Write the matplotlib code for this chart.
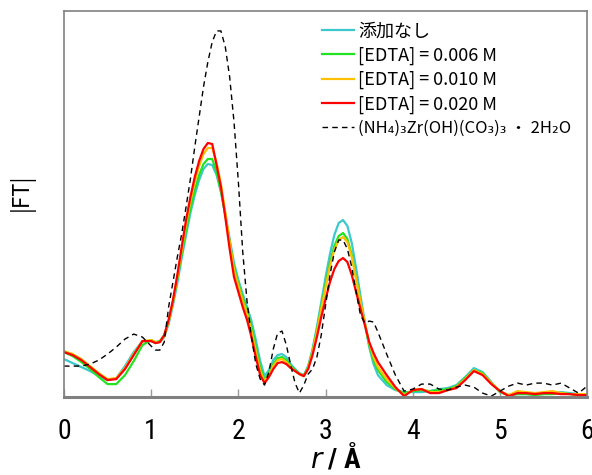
import matplotlib
matplotlib.use("Agg")
import matplotlib.pyplot as plt
from matplotlib import font_manager

# ---------------- data ----------------
r_grid = [0, 0.1, 0.2, 0.3, 0.4, 0.5, 0.6, 0.7, 0.8, 0.9, 1.0,
          1.05, 1.1, 1.15, 1.2, 1.25, 1.3, 1.35, 1.4, 1.45, 1.5, 1.55, 1.6, 1.65, 1.7, 1.75,
          1.8, 1.85, 1.9, 1.95, 2.0, 2.05, 2.1, 2.15, 2.2, 2.25, 2.3, 2.35, 2.4, 2.45, 2.5,
          2.55, 2.6, 2.65, 2.7, 2.75, 2.8, 2.85, 2.9, 2.95, 3.0, 3.05, 3.1, 3.15, 3.2, 3.25,
          3.3, 3.35, 3.4, 3.45, 3.5, 3.55, 3.6,
          3.7, 3.8, 3.9, 4.0, 4.1, 4.2, 4.3, 4.4, 4.5, 4.6, 4.7, 4.8, 4.9, 5.0, 5.1, 5.2,
          5.3, 5.4, 5.5, 5.6, 5.7, 5.8, 5.9, 6.0]

ft_none = [38, 34, 30, 26, 21, 17, 19, 31, 45, 56, 56,
           54, 55, 60, 73, 92, 114, 139, 162, 184, 202, 217, 228, 233, 232, 222,
           205, 183, 158, 134, 117, 103, 90, 76, 57, 36, 21, 27, 37, 42, 43,
           40, 33, 28, 24, 22, 31, 48, 70, 95, 120, 143, 162, 174, 177, 171,
           154, 129, 101, 75, 50, 33, 22,
           12, 7, 5, 5, 5, 6, 8, 9, 12, 20, 29, 25, 15, 5, 2, 3,
           3, 3, 3, 4, 5, 4, 3, 3]

ft_006 = [45, 41, 35, 28, 20, 13, 13, 22, 36, 52, 57,
          55, 56, 62, 76, 95, 118, 143, 167, 189, 207, 222, 233, 238, 238, 225,
          206, 182, 155, 130, 113, 99, 86, 70, 50, 30, 17, 24, 33, 39, 40,
          37, 31, 27, 23, 21, 30, 46, 67, 90, 113, 134, 151, 161, 164, 158,
          142, 119, 95, 73, 52, 37, 27,
          15, 8, 4, 6, 7, 6, 7, 8, 11, 19, 27, 24, 14, 5, 2, 3,
          3, 2, 3, 3, 4, 3, 2, 2]

ft_010 = [46, 43, 38, 31, 24, 18, 19, 29, 43, 56, 57,
          55, 55, 61, 75, 95, 120, 147, 173, 196, 215, 231, 243, 249, 249, 234,
          213, 185, 155, 127, 111, 96, 83, 66, 46, 26, 16, 22, 31, 37, 38,
          35, 30, 26, 23, 21, 29, 45, 65, 88, 110, 131, 147, 157, 160, 155,
          140, 118, 95, 74, 54, 40, 30,
          18, 9, 2, 7, 8, 5, 5, 7, 10, 18, 27, 23, 14, 6, 2, 6,
          5, 4, 5, 6, 4, 3, 3, 3]

ft_020 = [45, 42, 37, 30, 23, 17, 18, 28, 42, 56, 56,
          54, 55, 62, 77, 97, 122, 150, 177, 200, 220, 236, 248, 254, 253, 232,
          210, 180, 148, 120, 105, 90, 77, 60, 40, 22, 14, 20, 28, 34, 35,
          33, 29, 26, 23, 21, 28, 42, 60, 80, 98, 115, 128, 136, 139, 135,
          122, 105, 88, 72, 55, 44, 35,
          22, 10, 1, 7, 8, 4, 4, 7, 9, 17, 26, 22, 13, 6, 1, 4,
          4, 3, 4, 4, 3, 3, 2, 2]

ft_ref = [31, 31, 31, 33, 37, 43, 50, 58, 63, 60, 51,
          47, 47, 55, 90, 115, 140, 163, 190, 218, 250, 280, 310, 335, 355, 366,
          366, 350, 320, 275, 215, 145, 95, 60, 33, 18, 12, 25, 48, 64, 66,
          52, 32, 14, 4, 12, 23, 28, 40, 62, 92, 122, 145, 157, 157, 148,
          130, 105, 82, 74, 76, 75, 65,
          43, 22, 6, 8, 13, 13, 8, 7, 10, 12, 10, 4, 1, 6, 11, 14,
          12, 14, 14, 12, 14, 9, 4, 11]

labels = ["添加なし", "[EDTA] = 0.006 M", "[EDTA] = 0.010 M", "[EDTA] = 0.020 M",
          "(NH₄)₃Zr(OH)(CO₃)₃ ・ 2H₂O"]
colors = ["#3CC8CC", "#22E322", "#FFC000", "#FF0000"]
x_ticks = [0, 1, 2, 3, 4, 5, 6]

# ---------------- fonts ----------------
available = {f.name for f in font_manager.fontManager.ttflist}
narrow = "Roboto Condensed" if "Roboto Condensed" in available else "DejaVu Sans"
legend_family = ["Noto Sans CJK JP", "DejaVu Sans"]

# ---------------- figure ----------------
fig = plt.figure(figsize=(5.92, 4.75), dpi=100)
ax = fig.add_axes([0.108, 0.164, 0.884, 0.813])

series = [ft_none, ft_006, ft_010, ft_020]
for vals, col, lab in zip(series, colors, labels[:4]):
    ax.plot(r_grid, vals, color=col, lw=1.6, label=lab, solid_joinstyle="round")
ax.plot(r_grid, ft_ref, color="black", lw=1.0, ls=(0, (4, 3)), label=labels[4])

ax.set_xlim(0, 6)
ax.set_ylim(0, 386)
ax.set_xticks(x_ticks)
ax.set_xticklabels([str(t) for t in x_ticks], family=narrow, fontsize=20)
ax.set_yticks([])
ax.tick_params(axis="x", direction="in", length=6, width=1, color="#999999", pad=15)

for side, sp in ax.spines.items():
    sp.set_color("#808080")
    sp.set_linewidth(1.2)
ax.spines["bottom"].set_linewidth(2.2)

ax.set_ylabel("|FT|", family=legend_family, fontsize=16)
ax.yaxis.set_label_coords(-0.055, 0.53)
ax.set_xlabel("$\\it{r}$ / Å", family=narrow, fontsize=20, fontweight="bold")
ax.xaxis.set_label_coords(0.52, -0.118)

leg = ax.legend(loc="upper left", bbox_to_anchor=(0.493, 0.97), frameon=False,
                prop={"family": legend_family, "size": 13}, handlelength=1.75,
                handletextpad=0.25, labelspacing=0.34, borderpad=0, borderaxespad=0)
leg.get_texts()[4].set_fontsize(12)

fig.savefig("out.png", dpi=100)
